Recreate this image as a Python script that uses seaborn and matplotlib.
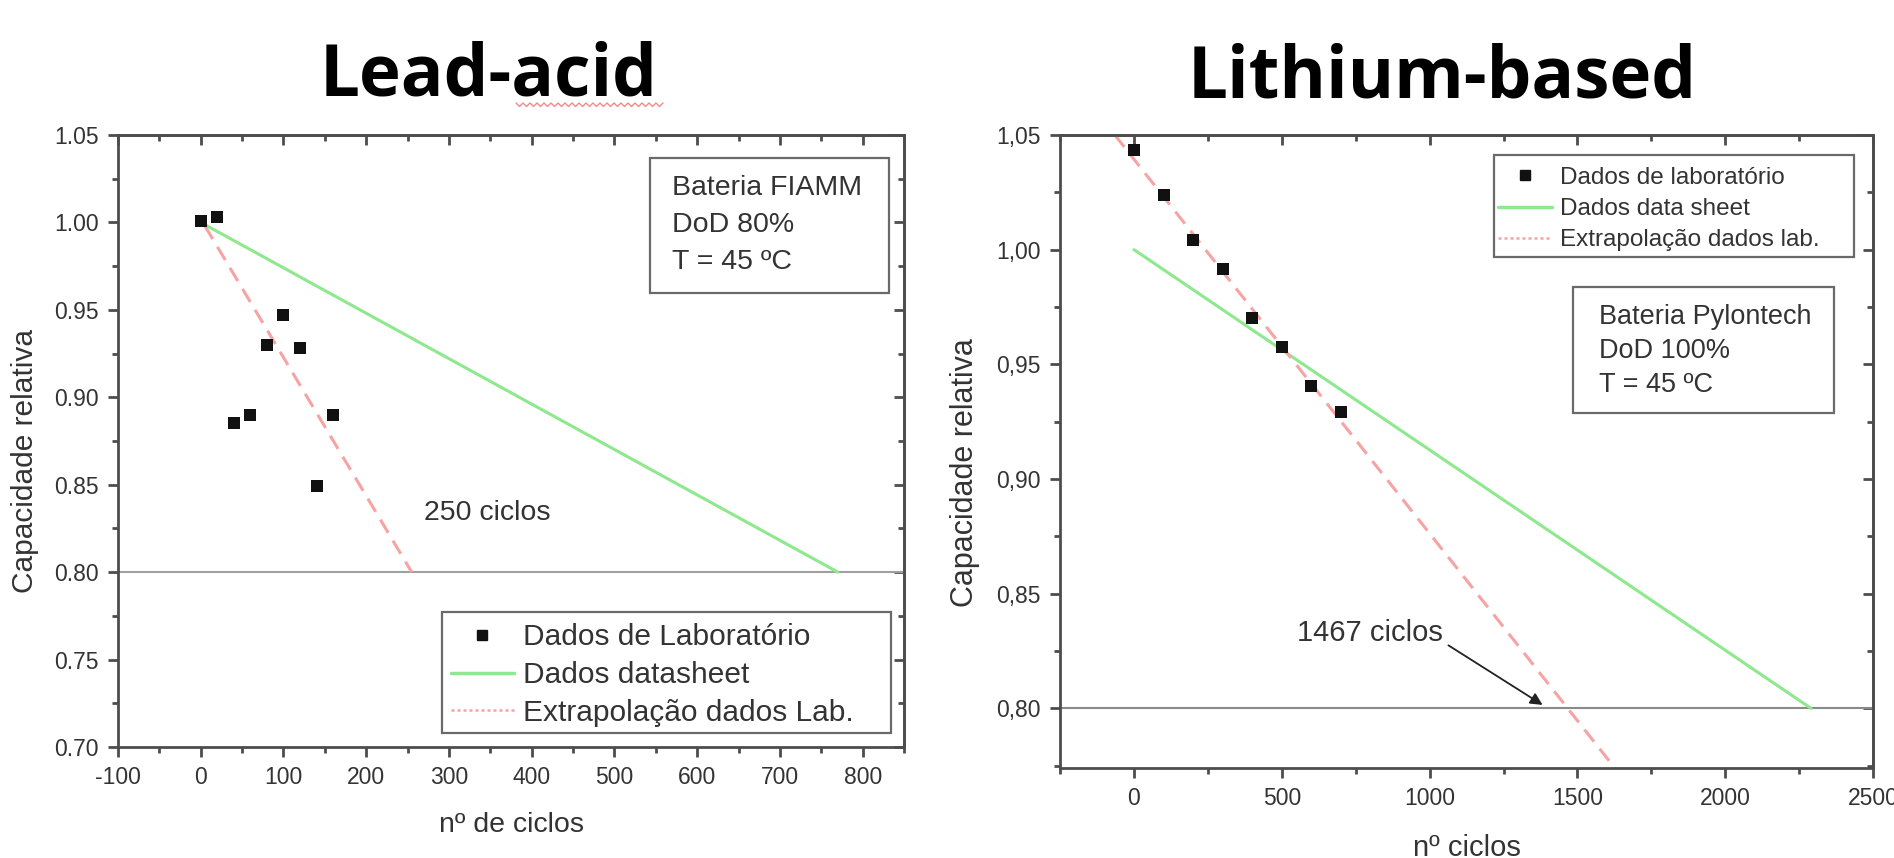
import numpy as np
import matplotlib
matplotlib.use("Agg")
import matplotlib.pyplot as plt
import seaborn as sns
from matplotlib.lines import Line2D
from matplotlib.patches import Rectangle
from matplotlib.ticker import MultipleLocator, FuncFormatter

# ---- data ----
# Lead-acid (FIAMM)
lead_cycles = [0, 20, 40, 60, 80, 100, 120, 140, 160]
lead_capacity = [1.001, 1.003, 0.885, 0.890, 0.930, 0.947, 0.928, 0.849, 0.890]
lead_sheet_cycles = [0, 770]
lead_sheet_capacity = [1.0, 0.80]
lead_extrap_cycles = [5, 255]
lead_extrap_capacity = [0.998, 0.80]

# Lithium (Pylontech)
li_cycles = [0, 100, 200, 300, 400, 500, 600, 700]
li_capacity = [1.0435, 1.024, 1.004, 0.9915, 0.970, 0.9575, 0.9405, 0.929]
li_sheet_cycles = [0, 2290]
li_sheet_capacity = [1.0, 0.80]
li_extrap_cycles = [-65, 1467, 1620]
li_extrap_capacity = [1.05, 0.80, 0.775]

eol_capacity = 0.80

GREEN = "#8ee88e"
RED = "#f7a3a3"
BLACK = "#111111"
TXT = "#333333"
SPINE = "#4d4d4d"

sns.set_style("white")
plt.rcParams["font.family"] = ["Liberation Sans", "DejaVu Sans"]
plt.rcParams["axes.unicode_minus"] = False

W, H = 1894, 858
fig = plt.figure(figsize=(W / 100, H / 100), dpi=100)
ax1 = fig.add_axes([0.0623, 0.1294, 0.415, 0.7133])
ax2 = fig.add_axes([0.5597, 0.1049, 0.4293, 0.7378])


def style_axes(ax, xmaj, xmin, ymaj, ymin, yfmt):
    for sp in ax.spines.values():
        sp.set_color(SPINE)
        sp.set_linewidth(2)
    ax.xaxis.set_major_locator(MultipleLocator(xmaj))
    ax.xaxis.set_minor_locator(MultipleLocator(xmin))
    ax.yaxis.set_major_locator(MultipleLocator(ymaj))
    ax.yaxis.set_minor_locator(MultipleLocator(ymin))
    ax.yaxis.set_major_formatter(FuncFormatter(yfmt))
    ax.tick_params(which="both", direction="out", color=SPINE, width=2,
                   labelsize=16.5, labelcolor=TXT, pad=7,
                   bottom=True, left=True)
    ax.tick_params(which="major", length=7)
    ax.tick_params(which="minor", length=4)
    # mirrored ticks on top / right pointing inward (Origin style)
    top = ax.secondary_xaxis("top")
    top.xaxis.set_major_locator(MultipleLocator(xmaj))
    top.xaxis.set_minor_locator(MultipleLocator(xmin))
    top.tick_params(which="both", direction="in", color=SPINE, width=2,
                    labeltop=False)
    top.tick_params(which="major", length=7)
    top.tick_params(which="minor", length=4)
    right = ax.secondary_yaxis("right")
    right.yaxis.set_major_locator(MultipleLocator(ymaj))
    right.yaxis.set_minor_locator(MultipleLocator(ymin))
    right.tick_params(which="both", direction="in", color=SPINE, width=2,
                      labelright=False)
    right.tick_params(which="major", length=7)
    right.tick_params(which="minor", length=4)
    for sec in (top, right):
        for sp in sec.spines.values():
            sp.set_color(SPINE)
            sp.set_linewidth(2)


def legend_handles(ms):
    return [
        Line2D([], [], marker="s", ls="none", color=BLACK, markersize=ms),
        Line2D([], [], color=GREEN, lw=2.5),
        Line2D([], [], color=RED, lw=1.8, ls=(0, (1.2, 1.2))),
    ]


def boxed(ax, x0, y0, w, h):
    ax.add_patch(Rectangle((x0, y0), w, h, transform=ax.transAxes,
                           fc="white", ec="#6a6a6a", lw=1.6, zorder=6))


# ---------------- Lead-acid ----------------
ax1.axhline(eol_capacity, color="#a0a0a0", lw=1.5, zorder=1)
sns.lineplot(x=lead_sheet_cycles, y=lead_sheet_capacity, ax=ax1, color=GREEN,
             lw=2.2, legend=False)
sns.lineplot(x=lead_extrap_cycles, y=lead_extrap_capacity, ax=ax1, color=RED,
             lw=2.2, linestyle=(0, (5, 3)), legend=False)
sns.scatterplot(x=lead_cycles, y=lead_capacity, ax=ax1, marker="s", s=85,
                color=BLACK, linewidth=0, zorder=5, legend=False)
ax1.set_xlim(-100, 850)
ax1.set_ylim(0.70, 1.05)
style_axes(ax1, 100, 50, 0.05, 0.025, lambda v, _: f"{v:.2f}")
ax1.set_xlabel("nº de ciclos", fontsize=20.5, color=TXT)
ax1.set_ylabel("Capacidade relativa", fontsize=21.5, color=TXT)
ax1.xaxis.set_label_coords(0.5, -0.106)
ax1.yaxis.set_label_coords(-0.101, 0.467)
ax1.xaxis.label.set_va("top")

ax1.text(270, 0.834, "250 ciclos", fontsize=20.5, color=TXT, ha="left", va="center")

boxed(ax1, 0.677, 0.742, 0.304, 0.220)
ax1.text(0.705, 0.853, "Bateria FIAMM\nDoD 80%\nT = 45 ºC", transform=ax1.transAxes,
         fontsize=20.5, color=TXT, ha="left", va="center", linespacing=1.55, zorder=7)

boxed(ax1, 0.412, 0.023, 0.571, 0.198)
leg1 = ax1.legend(handles=legend_handles(7.5),
                  labels=["Dados de Laboratório", "Dados datasheet",
                          "Extrapolação dados Lab."],
                  loc="center left", bbox_to_anchor=(0.4237, 0.1176),
                  borderaxespad=0, borderpad=0, fontsize=21.5, frameon=False,
                  handlelength=2.1, handletextpad=0.3, labelspacing=0.33)
leg1.set_zorder(8)
for t in leg1.get_texts():
    t.set_color(TXT)

# ---------------- Lithium ----------------
ax2.axhline(eol_capacity, color="#8a8a8a", lw=1.5, zorder=1)
sns.lineplot(x=li_sheet_cycles, y=li_sheet_capacity, ax=ax2, color=GREEN,
             lw=2.2, legend=False)
sns.lineplot(x=li_extrap_cycles, y=li_extrap_capacity, ax=ax2, color=RED,
             lw=2.2, linestyle=(0, (5, 3)), legend=False)
sns.scatterplot(x=li_cycles, y=li_capacity, ax=ax2, marker="s", s=85,
                color=BLACK, linewidth=0, zorder=5, legend=False)
ax2.set_xlim(-250, 2500)
ax2.set_ylim(0.774, 1.05)
style_axes(ax2, 500, 250, 0.05, 0.025, lambda v, _: f"{v:.2f}".replace(".", ","))
ax2.set_xlabel("nº ciclos", fontsize=21, color=TXT)
ax2.set_ylabel("Capacidade relativa", fontsize=22, color=TXT)
ax2.xaxis.set_label_coords(0.5, -0.104)
ax2.yaxis.set_label_coords(-0.099, 0.466)
ax2.xaxis.label.set_va("top")

ax2.annotate("1467 ciclos", xy=(1382, 0.8015), xytext=(551, 0.8327),
             fontsize=21, color=TXT, ha="left", va="center",
             arrowprops=dict(arrowstyle="-|>", color="#222222", lw=1.3,
                             mutation_scale=18, shrinkA=2, shrinkB=0,
                             relpos=(1.0, 0.2)))

boxed(ax2, 0.631, 0.561, 0.321, 0.199)
ax2.text(0.663, 0.659, "Bateria Pylontech\nDoD 100%\nT = 45 ºC", transform=ax2.transAxes,
         fontsize=19.5, color=TXT, ha="left", va="center", linespacing=1.4, zorder=7)

boxed(ax2, 0.534, 0.807, 0.443, 0.161)
leg2 = ax2.legend(handles=legend_handles(7),
                  labels=["Dados de laboratório", "Dados data sheet",
                          "Extrapolação dados lab."],
                  loc="center left", bbox_to_anchor=(0.5387, 0.883),
                  borderaxespad=0, borderpad=0, fontsize=17.5, frameon=False,
                  handlelength=2.2, handletextpad=0.33, labelspacing=0.38)
leg2.set_zorder(8)
for t in leg2.get_texts():
    t.set_color(TXT)

# ---------------- titles ----------------
fig.text(489 / W, 1 - 96 / H, "Lead-acid", fontsize=51, fontweight="bold",
         family=["Open Sans", "DejaVu Sans"], ha="center", va="baseline", color="black")
fig.text(1442 / W, 1 - 98 / H, "Lithium-based", fontsize=51, fontweight="bold",
         family=["Open Sans", "DejaVu Sans"], ha="center", va="baseline", color="black")

# spell-check squiggle under "acid" (as in the screenshot)
sq_x = np.arange(516, 664, 3.5)
sq_y = np.where(np.arange(len(sq_x)) % 2 == 0, 103.0, 106.5)
fig.add_artist(Line2D(sq_x / W, 1 - sq_y / H, transform=fig.transFigure,
                      color="#f08a8a", lw=1.0))

fig.savefig("out.png", dpi=100)
